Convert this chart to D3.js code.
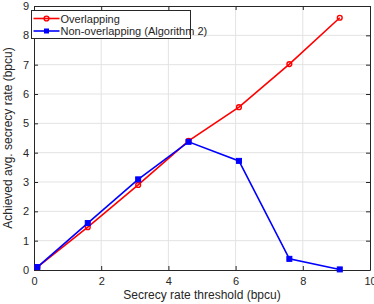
<!DOCTYPE html>
<html>
<head>
<meta charset="utf-8">
<script src="https://cdn.jsdelivr.net/npm/d3@7"></script>
<style>
  body { margin: 0; background: #fff; }
  svg { display: block; font-family: "Liberation Sans", Arial, sans-serif; }
</style>
</head>
<body>
<script>
// data
var thresholds = [0.1, 1.6, 3.1, 4.6, 6.1, 7.6, 9.1];
var overlapping = [0.1, 1.46, 2.9, 4.4, 5.55, 7.02, 8.6];
var nonOverlapping = [0.1, 1.6, 3.09, 4.37, 3.72, 0.38, 0.02];
var seriesNames = ['Overlapping', 'Non-overlapping (Algorithm 2)'];
var xTicks = [0, 2, 4, 6, 8, 10];
var yTicks = [0, 1, 2, 3, 4, 5, 6, 7, 8, 9];

var W = 374, H = 304;
var margin = { left: 34, right: 4, top: 6, bottom: 34 };
var TEXT = '#262626';

var svg = d3.select('body').append('svg')
  .attr('width', W)
  .attr('height', H);

var x = d3.scaleLinear().domain([0, 10]).range([margin.left, W - margin.right]);
var y = d3.scaleLinear().domain([0, 9]).range([H - margin.bottom, margin.top]);

// grid
svg.append('g').selectAll('line.gx')
  .data(xTicks.slice(1, -1))
  .enter().append('line')
  .attr('x1', function(d) { return x(d); })
  .attr('x2', function(d) { return x(d); })
  .attr('y1', y(0)).attr('y2', y(9))
  .attr('stroke', '#e3e3e3').attr('stroke-width', 1);

svg.append('g').selectAll('line.gy')
  .data(yTicks.slice(1, -1))
  .enter().append('line')
  .attr('y1', function(d) { return y(d); })
  .attr('y2', function(d) { return y(d); })
  .attr('x1', x(0)).attr('x2', x(10))
  .attr('stroke', '#e3e3e3').attr('stroke-width', 1);

// axes, ticks point inward
var xAxis = svg.append('g')
  .attr('transform', 'translate(0,' + y(0) + ')')
  .call(d3.axisBottom(x).tickValues(xTicks).tickSize(-4).tickPadding(7).tickSizeOuter(0));
var xTop = svg.append('g')
  .attr('transform', 'translate(0,' + y(9) + ')')
  .call(d3.axisTop(x).tickValues(xTicks).tickSize(-4).tickFormat('').tickSizeOuter(0));
var yAxis = svg.append('g')
  .attr('transform', 'translate(' + x(0) + ',0)')
  .call(d3.axisLeft(y).tickValues(yTicks).tickSize(-4).tickPadding(5).tickSizeOuter(0));
var yRight = svg.append('g')
  .attr('transform', 'translate(' + x(10) + ',0)')
  .call(d3.axisRight(y).tickValues(yTicks).tickSize(-4).tickFormat('').tickSizeOuter(0));

[xAxis, xTop, yAxis, yRight].forEach(function(g) {
  g.selectAll('path').attr('stroke', TEXT).attr('stroke-width', 1);
  g.selectAll('line').attr('stroke', TEXT);
  g.selectAll('text').attr('fill', TEXT).style('font-size', '11px').style('font-family', '"Liberation Sans", Arial, sans-serif');
});

// axis titles
svg.append('text')
  .attr('x', (x(0) + x(10)) / 2)
  .attr('y', 299)
  .attr('text-anchor', 'middle')
  .attr('fill', TEXT)
  .style('font-size', '12px')
  .text('Secrecy rate threshold (bpcu)');

svg.append('text')
  .attr('transform', 'translate(12,' + ((y(0) + y(9)) / 2) + ') rotate(-90)')
  .attr('text-anchor', 'middle')
  .attr('fill', TEXT)
  .style('font-size', '12px')
  .text('Achieved avg. secrecy rate (bpcu)');

// lines
var line = d3.line()
  .x(function(d) { return x(d[0]); })
  .y(function(d) { return y(d[1]); });

var redPts = d3.zip(thresholds, overlapping);
var bluePts = d3.zip(thresholds, nonOverlapping);

svg.append('path').datum(redPts)
  .attr('d', line).attr('fill', 'none')
  .attr('stroke', '#ff0000').attr('stroke-width', 1.6);
svg.append('g').selectAll('circle')
  .data(redPts).enter().append('circle')
  .attr('cx', function(d) { return x(d[0]); })
  .attr('cy', function(d) { return y(d[1]); })
  .attr('r', 2.4)
  .attr('fill', 'none').attr('stroke', '#ff0000').attr('stroke-width', 1.4);

svg.append('path').datum(bluePts)
  .attr('d', line).attr('fill', 'none')
  .attr('stroke', '#0000ff').attr('stroke-width', 1.6);
svg.append('g').selectAll('rect')
  .data(bluePts).enter().append('rect')
  .attr('x', function(d) { return x(d[0]) - 2.5; })
  .attr('y', function(d) { return y(d[1]) - 2.5; })
  .attr('width', 5).attr('height', 5)
  .attr('fill', '#0000ff').attr('stroke', '#0000ff').attr('stroke-width', 1);

// legend
var lg = svg.append('g').attr('transform', 'translate(31.5,10.5)');
lg.append('rect')
  .attr('width', 159).attr('height', 28)
  .attr('fill', '#fff').attr('stroke', TEXT).attr('stroke-width', 1);

var colors = ['#ff0000', '#0000ff'];
seriesNames.forEach(function(name, i) {
  var yy = 8 + i * 12.5;
  lg.append('line')
    .attr('x1', 2).attr('x2', 28).attr('y1', yy).attr('y2', yy)
    .attr('stroke', colors[i]).attr('stroke-width', 1.6);
  if (i === 0) {
    lg.append('circle').attr('cx', 15).attr('cy', yy).attr('r', 2.4)
      .attr('fill', 'none').attr('stroke', colors[i]).attr('stroke-width', 1.4);
  } else {
    lg.append('rect').attr('x', 12.5).attr('y', yy - 2.5).attr('width', 5).attr('height', 5)
      .attr('fill', colors[i]);
  }
  lg.append('text')
    .attr('x', 29).attr('y', yy + 4)
    .attr('fill', TEXT)
    .style('font-size', '11px')
    .text(name);
});
</script>
</body>
</html>
